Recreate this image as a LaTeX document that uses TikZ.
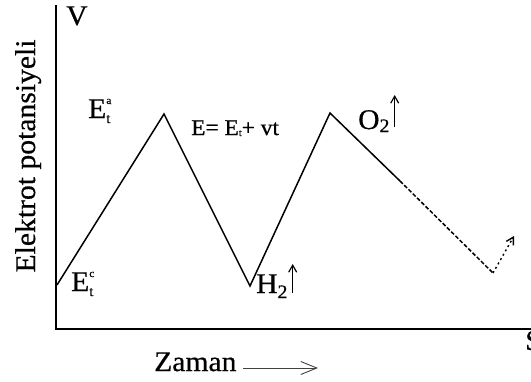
\documentclass[tikz,border=0pt]{standalone}
\usepackage{fontspec}
\setmainfont[FakeBold=0.6,FakeStretch=1.04]{Liberation Serif}
\usetikzlibrary{arrows.meta,calc}
\begin{document}
\begin{tikzpicture}[x=1pt,y=-1pt,
  big/.style={inner sep=0pt,anchor=base west,font=\fontsize{28.5}{28.5}\selectfont},
  small/.style={inner sep=0pt,anchor=base west,font=\fontsize{22.5}{22.5}\selectfont},
  axis/.style={line width=2.6pt,line cap=rect},
  curve/.style={line width=1.5pt},
  gasarrow/.style={line width=1.2pt,-{Straight Barb[length=7pt,width=8pt]}},
  timearrow/.style={line width=0.9pt,draw=black!75,-{Straight Barb[length=16pt,width=13pt]}}]
\useasboundingbox (0,0) rectangle (531,381);
% axes
\coordinate (top) at (56,6);
\coordinate (origin) at (56,329);
\coordinate (right) at (535,329);
\draw[axis] (top) -- (origin);
\draw[line width=2pt] (origin) -- (right);
% curve
\coordinate (p0) at (57,285);
\coordinate (p1) at (164,114);
\coordinate (p2) at (250,286);
\coordinate (p3) at (330,113);
\coordinate (p4) at (400,181);
\coordinate (p5) at (493,273);
\coordinate (p6) at (514,236);
\draw[curve,line join=miter] (p0) -- (p1) -- (p2) -- (p3) -- (p4);
\draw[curve,dash pattern=on 4pt off 2pt] (p4) -- (p5);
\draw[line width=1.4pt,dash pattern=on 2pt off 3pt,-{Straight Barb[length=7pt,width=8pt]}] (p5) -- (p6);
% labels
\node[big] (v) at (66,25) {V};
\node[big] (s) at (525,350) {S};
\node[big,anchor=base,rotate=90] (ylab) at (35,156) {Elektrot potansiyeli};
\node[big] (ea) at (88,118) {E\rlap{\raisebox{14pt}{\fontsize{11}{11}\selectfont a}}\raisebox{-5pt}{\fontsize{14}{14}\selectfont t}};
\node[big] (ec) at (71,291) {E\rlap{\raisebox{14pt}{\fontsize{11}{11}\selectfont c}}\raisebox{-5pt}{\fontsize{14}{14}\selectfont t}};
\node[small] (eq) at (191,135) {E= E\raisebox{-1pt}{\fontsize{10}{10}\selectfont t}+ vt};
\node[big] (h2) at (256,293) {H\raisebox{-5pt}{\fontsize{19}{19}\selectfont 2}};
\node[big] (o2) at (358,129) {O\raisebox{-3pt}{\fontsize{19}{19}\selectfont 2}};
\node[big] (zaman) at (154,371) {Zaman};
\draw[gasarrow] ($(h2.base east)+(5,0)$) -- ++(0,-29);
\draw[gasarrow] ($(o2.base east)+(5,-2)$) -- ++(0,-32);
\coordinate (tstart) at (243,368);
\coordinate (tend) at (318,368);
\draw[timearrow] (tstart) -- (tend);
\end{tikzpicture}
\end{document}
